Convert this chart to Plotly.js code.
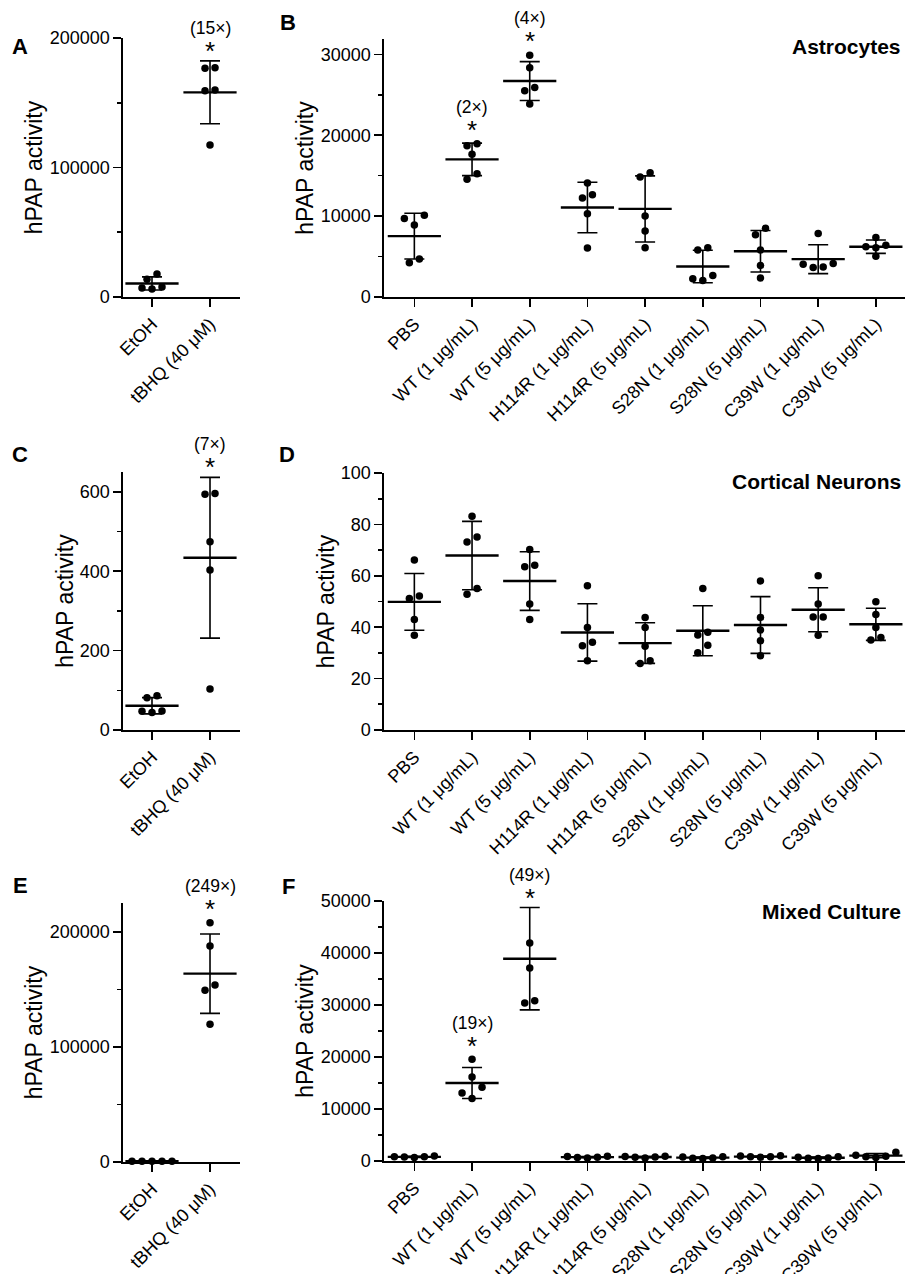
<!DOCTYPE html>
<html><head><meta charset="utf-8">
<script src="https://cdn.plot.ly/plotly-3.0.1.min.js"></script>
<style>html,body{margin:0;padding:0;background:#fff}</style>
</head><body><div id="chart" style="width:907px;height:1274px"></div>
<script>
// ---------------- DATA ----------------
const ctrlCats = ["EtOH", "tBHQ (40 μM)"];
const treatCats = ["PBS", "WT (1 μg/mL)", "WT (5 μg/mL)", "H114R (1 μg/mL)", "H114R (5 μg/mL)",
                   "S28N (1 μg/mL)", "S28N (5 μg/mL)", "C39W (1 μg/mL)", "C39W (5 μg/mL)"];

// A: Astrocytes, tBHQ control
const astroEtOH = [17800, 13700, 7700, 6200, 7000];
const astroTBHQ = [177100, 176600, 159800, 159300, 117400];
const foldA = ["", "(15×)"];

// B: Astrocytes, treatments
const astroPBS    = [9700, 10100, 8900, 4700, 4250];
const astroWT1    = [18950, 18700, 17650, 15250, 14550];
const astroWT5    = [29900, 28350, 25900, 25500, 23850];
const astroH114R1 = [14100, 12650, 12250, 10300, 6050];
const astroH114R5 = [15350, 14850, 10000, 8150, 6100];
const astroS28N1  = [6100, 5800, 2650, 2250, 2050];
const astroS28N5  = [8500, 7700, 5800, 3900, 2350];
const astroC39W1  = [7850, 4150, 3700, 3650, 4050];
const astroC39W5  = [7350, 6200, 6400, 6100, 5050];
const foldB = ["", "(2×)", "(4×)", "", "", "", "", "", ""];

// C: Cortical neurons, tBHQ control
const neuroEtOH = [86, 81, 48, 44, 47];
const neuroTBHQ = [596, 594, 474, 403, 103];
const foldC = ["", "(7×)"];

// D: Cortical neurons, treatments
const neuroPBS    = [66.1, 51.2, 52.1, 43.0, 36.9];
const neuroWT1    = [83.2, 75.1, 73.2, 55.1, 52.8];
const neuroWT5    = [70.2, 63.5, 64.1, 49.0, 43.0];
const neuroH114R1 = [56.1, 39.9, 34.1, 32.8, 26.9];
const neuroH114R5 = [39.9, 43.8, 32.6, 26.9, 25.9];
const neuroS28N1  = [55.1, 38.0, 37.0, 33.0, 30.1];
const neuroS28N5  = [58.0, 43.8, 38.9, 34.7, 28.9];
const neuroC39W1  = [60.0, 49.0, 44.0, 44.0, 36.9];
const neuroC39W5  = [49.9, 44.9, 39.9, 36.0, 35.0];
const foldD = ["", "", "", "", "", "", "", "", ""];

// E: Mixed culture, tBHQ control
const mixedEtOH = [680, 640, 620, 650, 700];
const mixedTBHQ = [207800, 187600, 153700, 149300, 119700];
const foldE = ["", "(249×)"];

// F: Mixed culture, treatments
const mixedPBS    = [950, 800, 650, 750, 800];
const mixedWT1    = [19550, 16150, 14200, 13100, 12000];
const mixedWT5    = [54300, 41900, 37100, 30400, 30800];
const mixedH114R1 = [900, 700, 600, 650, 850];
const mixedH114R5 = [900, 750, 600, 700, 850];
const mixedS28N1  = [750, 550, 500, 600, 800];
const mixedS28N5  = [1000, 800, 700, 800, 950];
const mixedC39W1  = [800, 600, 500, 550, 700];
const mixedC39W5  = [1700, 900, 650, 800, 1100];
const foldF = ["", "(19×)", "(49×)", "", "", "", "", "", ""];

const panelTitles = ["Astrocytes", "Cortical Neurons", "Mixed Culture"];
const panelLetters = ["A", "B", "C", "D", "E", "F"];
const yTitle = "hPAP activity";

// ---------------- LAYOUT / STYLE ----------------
const W = 907, H = 1274;
const FONT = "Liberation Sans, Arial, Helvetica, sans-serif";
const px2x = p => p / W;
const px2y = p => 1 - p / H;

const panels = [
  {groups: [astroEtOH, astroTBHQ], cats: ctrlCats, fold: foldA,
   xpx: [123, 240], ypx: [38, 297], yrange: [0, 200000], dtick: 100000, minor: 50000, xr: [-0.5, 1.517]},
  {groups: [astroPBS, astroWT1, astroWT5, astroH114R1, astroH114R5, astroS28N1, astroS28N5, astroC39W1, astroC39W5],
   cats: treatCats, fold: foldB,
   xpx: [384, 905], ypx: [39, 297], yrange: [0, 31900], dtick: 10000, minor: 5000, xr: [-0.526, 8.505]},
  {groups: [neuroEtOH, neuroTBHQ], cats: ctrlCats, fold: foldC,
   xpx: [123, 240], ypx: [472, 730], yrange: [0, 650], dtick: 200, minor: 100, xr: [-0.5, 1.517]},
  {groups: [neuroPBS, neuroWT1, neuroWT5, neuroH114R1, neuroH114R5, neuroS28N1, neuroS28N5, neuroC39W1, neuroC39W5],
   cats: treatCats, fold: foldD,
   xpx: [384, 905], ypx: [473, 730], yrange: [0, 100], dtick: 20, minor: 10, xr: [-0.526, 8.505]},
  {groups: [mixedEtOH, mixedTBHQ], cats: ctrlCats, fold: foldE,
   xpx: [123, 240], ypx: [903, 1162], yrange: [0, 225000], dtick: 100000, minor: 50000, xr: [-0.5, 1.517]},
  {groups: [mixedPBS, mixedWT1, mixedWT5, mixedH114R1, mixedH114R5, mixedS28N1, mixedS28N5, mixedC39W1, mixedC39W5],
   cats: treatCats, fold: foldF,
   xpx: [384, 905], ypx: [901, 1161], yrange: [0, 50000], dtick: 10000, minor: 5000, xr: [-0.526, 8.505]}
];

const letterPos = [[20, 47], [288, 22], [20, 454], [287, 454], [20, 885], [288, 886]];
const titlePos = [[903, 46], [903, 482], [903, 911]];

const DOT = 7.5, SPACING = 10, THRESH = 7.5;

function mean(a) { return a.reduce((s, v) => s + v, 0) / a.length; }
function sd(a) { const m = mean(a); return Math.sqrt(a.reduce((s, v) => s + (v - m) * (v - m), 0) / (a.length - 1)); }

// column-scatter layout: points closer than THRESH px vertically share a row, centred on the category
function swarm(vals, center, pxPerY, pxPerX) {
  const idx = vals.map((v, i) => i).sort((a, b) => vals[b] - vals[a]);
  const xs = new Array(vals.length);
  let cluster = [];
  const flush = () => {
    const n = cluster.length;
    let lo = -(n - 1) / 2, hi = (n - 1) / 2, right = true;
    cluster.forEach(i => {
      let s;
      if (right) { s = hi; hi -= 1; } else { s = lo; lo += 1; }
      right = !right;
      xs[i] = center + s * SPACING / pxPerX;
    });
    cluster = [];
  };
  idx.forEach(i => {
    if (cluster.length && (vals[cluster[cluster.length - 1]] - vals[i]) * pxPerY >= THRESH) flush();
    cluster.push(i);
  });
  flush();
  return xs;
}

const traces = [];
const layout = {
  width: W, height: H, margin: {l: 0, r: 0, t: 0, b: 0},
  paper_bgcolor: "#fff", plot_bgcolor: "#fff", showlegend: false,
  font: {family: FONT, color: "#000", size: 18},
  annotations: []
};

panels.forEach((p, k) => {
  const n = k + 1;
  const xa = "x" + (n === 1 ? "" : n), ya = "y" + (n === 1 ? "" : n);
  const xKey = "xaxis" + (n === 1 ? "" : n), yKey = "yaxis" + (n === 1 ? "" : n);
  const pxPerY = (p.ypx[1] - p.ypx[0]) / (p.yrange[1] - p.yrange[0]);
  const pxPerX = (p.xpx[1] - p.xpx[0]) / (p.xr[1] - p.xr[0]);

  layout[xKey] = {
    domain: [px2x(p.xpx[0]), px2x(p.xpx[1])], range: p.xr, anchor: ya,
    tickmode: "array", tickvals: p.cats.map((c, i) => i), ticktext: p.cats, tickangle: -45,
    showline: true, linecolor: "#000", linewidth: 1.6,
    ticks: "outside", ticklen: 8, tickwidth: 1.6, tickcolor: "#000",
    showgrid: false, zeroline: false, fixedrange: true,
    tickfont: {family: FONT, size: 18, color: "#000"}
  };
  layout[yKey] = {
    domain: [px2y(p.ypx[1]), px2y(p.ypx[0])], range: p.yrange, anchor: xa,
    tick0: 0, dtick: p.dtick, tickformat: "d",
    showline: true, linecolor: "#000", linewidth: 1.6,
    ticks: "outside", ticklen: 8, tickwidth: 1.6, tickcolor: "#000",
    minor: {dtick: p.minor, tick0: 0, ticks: "outside", ticklen: 4.5, tickwidth: 1.6, tickcolor: "#000", showgrid: false},
    showgrid: false, zeroline: false, fixedrange: true,
    tickfont: {family: FONT, size: 18, color: "#000"},
    title: {text: yTitle, font: {family: FONT, size: 23, color: "#000"}, standoff: 0}
  };

  const inX = [], inY = [], outX = [], outY = [];
  const means = [], sds = [];
  p.groups.forEach((g, i) => {
    const xs = swarm(g, i, pxPerY, pxPerX);
    g.forEach((v, j) => {
      if (v <= p.yrange[1]) { inX.push(xs[j]); inY.push(v); }
      else { outX.push(xs[j]); outY.push(v); }
    });
    means.push(mean(g)); sds.push(sd(g));
  });

  // mean +/- SD
  traces.push({
    type: "scatter", mode: "markers", xaxis: xa, yaxis: ya,
    x: p.groups.map((g, i) => i), y: means,
    error_y: {type: "data", array: sds, visible: true, color: "#000", thickness: 1.6, width: 10},
    marker: {symbol: "line-ew", size: 38, color: "#000", line: {color: "#000", width: 2.4}},
    hoverinfo: "skip", cliponaxis: false
  });
  // individual points
  traces.push({
    type: "scatter", mode: "markers", xaxis: xa, yaxis: ya, x: inX, y: inY,
    marker: {symbol: "circle", size: DOT, color: "#000"}, cliponaxis: false, hoverinfo: "skip"
  });
  if (outX.length) {
    traces.push({
      type: "scatter", mode: "markers", xaxis: xa, yaxis: ya, x: outX, y: outY,
      marker: {symbol: "circle", size: DOT, color: "#000"}, cliponaxis: true, hoverinfo: "skip"
    });
  }

  // significance labels, placed above the highest drawn element (cap or dot)
  p.fold.forEach((f, i) => {
    if (!f) return;
    const g = p.groups[i];
    const visMax = Math.max(...g.filter(v => v <= p.yrange[1]));
    const cap = means[i] + sds[i];
    const dotTopPx = visMax * pxPerY + DOT / 2;
    const capPx = cap * pxPerY;
    const topV = dotTopPx > capPx ? visMax : cap;
    const extra = dotTopPx > capPx ? DOT / 2 : 0;
    layout.annotations.push({xref: xa, yref: ya, x: i, y: topV, text: "*", showarrow: false,
      xanchor: "center", yanchor: "middle", yshift: 10 + extra, font: {family: FONT, size: 26, color: "#000"}});
    layout.annotations.push({xref: xa, yref: ya, x: i, y: topV, text: f, showarrow: false,
      xanchor: "center", yanchor: "middle", yshift: 33 + extra, font: {family: FONT, size: 17.5, color: "#000"}});
  });

  // panel letter
  layout.annotations.push({xref: "paper", yref: "paper", x: px2x(letterPos[k][0]), y: px2y(letterPos[k][1]),
    text: "<b>" + panelLetters[k] + "</b>", showarrow: false, xanchor: "center", yanchor: "middle",
    font: {family: FONT, size: 22, color: "#000"}});
});

panelTitles.forEach((t, i) => {
  layout.annotations.push({xref: "paper", yref: "paper", x: px2x(titlePos[i][0]), y: px2y(titlePos[i][1]),
    text: "<b>" + t + "</b>", showarrow: false, xanchor: "right", yanchor: "middle",
    font: {family: FONT, size: 21, color: "#000"}});
});

Plotly.newPlot("chart", traces, layout, {staticPlot: true, displayModeBar: false});
</script></body></html>
